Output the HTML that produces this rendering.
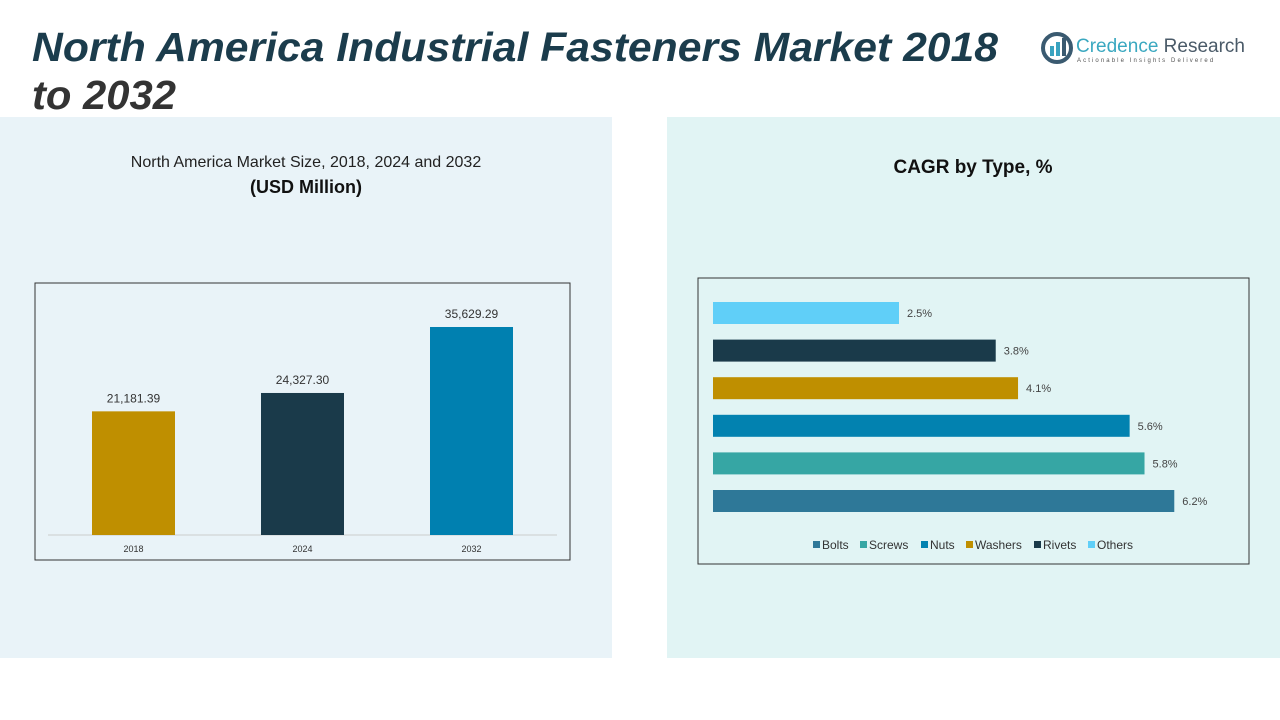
<!DOCTYPE html>
<html><head><meta charset="utf-8"><style>
body{margin:0;width:1280px;height:720px;background:#fff;overflow:hidden;font-family:"Liberation Sans",sans-serif}
svg{display:block}
</style></head><body>
<svg width="1280" height="720">
<rect x="0" y="117" width="612" height="541" fill="#e9f3f8"/>
<rect x="667" y="117" width="613" height="541" fill="#e1f4f4"/>
<text x="32" y="61" font-size="41" font-weight="bold" font-style="italic" fill="#1b3c4c" textLength="966" lengthAdjust="spacingAndGlyphs">North America Industrial Fasteners Market 2018</text>
<text x="32" y="109" font-size="41" font-weight="bold" font-style="italic" fill="#333" textLength="144" lengthAdjust="spacingAndGlyphs">to 2032</text>
<g>
<circle cx="1057" cy="48" r="14" fill="none" stroke="#3a5a70" stroke-width="4"/>
<rect x="1050" y="46" width="4" height="10" fill="#3aa3c0"/><rect x="1056" y="42" width="4" height="14" fill="#3aa3c0"/><rect x="1062" y="38" width="4" height="18" fill="#3a5a70"/>
<text x="1076" y="52" font-size="19" fill="#3aa8c0">Credence <tspan fill="#4a5a68">Research</tspan></text>
<text x="1077" y="62" font-size="6" fill="#555" letter-spacing="2.1">Actionable Insights Delivered</text>
</g>
<text x="306" y="167" font-size="16" fill="#222" text-anchor="middle">North America Market Size, 2018, 2024 and 2032</text>
<text x="306" y="193" font-size="18" font-weight="bold" fill="#111" text-anchor="middle">(USD Million)</text>
<text x="973" y="173" font-size="19" font-weight="bold" fill="#111" text-anchor="middle">CAGR by Type, %</text>
<rect x="35" y="283" width="535" height="277" fill="none" stroke="#333"/>
<line x1="48" y1="535" x2="557" y2="535" stroke="#ccc"/>
<g id="bars1"></g>
<rect x="698" y="278" width="551" height="286" fill="none" stroke="#333"/>
<g id="bars2"></g>
<g id="legend"></g>
</svg>
<script>
const years=["2018","2024","2032"];
const sizes=[21181.39,24327.30,35629.29];
const sizeLabels=["21,181.39","24,327.30","35,629.29"];
const yearColors=["#bf8f00","#1a3a4a","#0080b0"];
const types=["Bolts","Screws","Nuts","Washers","Rivets","Others"];
const cagr=[6.2,5.8,5.6,4.1,3.8,2.5];
const typeColors=["#2e7898","#36a6a4","#0282b0","#bf8f00","#1a3a4a","#60cff8"];
const NS="http://www.w3.org/2000/svg";
function mk(t,a,p){const e=document.createElementNS(NS,t);for(const k in a)e.setAttribute(k,a[k]);p.appendChild(e);return e;}
const yS=v=>535-v*0.005838;
const xC=i=>133.5+i*169;
const g1=document.getElementById('bars1');
years.forEach((y,i)=>{
 const r=mk('rect',{x:xC(i)-41.5,y:yS(sizes[i]),width:83,height:535-yS(sizes[i]),fill:yearColors[i]},g1);
 
 
 const t=mk('text',{x:xC(i),y:yS(sizes[i])-9,'font-size':12,fill:'#333','text-anchor':'middle'},g1);t.textContent=sizeLabels[i];
 
 
 const c=mk('text',{x:xC(i),y:552,'font-size':9,fill:'#333','text-anchor':'middle'},g1);c.textContent=y;
 
 
});
const xS=v=>713+v*74.4;
const yB=i=>501-i*37.6;
const g2=document.getElementById('bars2');
types.forEach((n,i)=>{
 const r=mk('rect',{x:713,y:yB(i)-11,width:xS(cagr[i])-713,height:22,fill:typeColors[i]},g2);
 
 
 const t=mk('text',{x:xS(cagr[i])+8,y:yB(i)+4,'font-size':11,fill:'#444'},g2);t.textContent=cagr[i].toFixed(1)+'%';
 
 
});
const lg=document.getElementById('legend');
const lx=[813,860,921,966,1034,1088];
types.forEach((n,i)=>{
 const r=mk('rect',{x:lx[i],y:541,width:7,height:7,fill:typeColors[i]},lg);
 
 
 const t=mk('text',{x:lx[i]+9,y:549,'font-size':12,fill:'#333'},lg);t.textContent=n;
 
 
});
</script>
</body></html>
